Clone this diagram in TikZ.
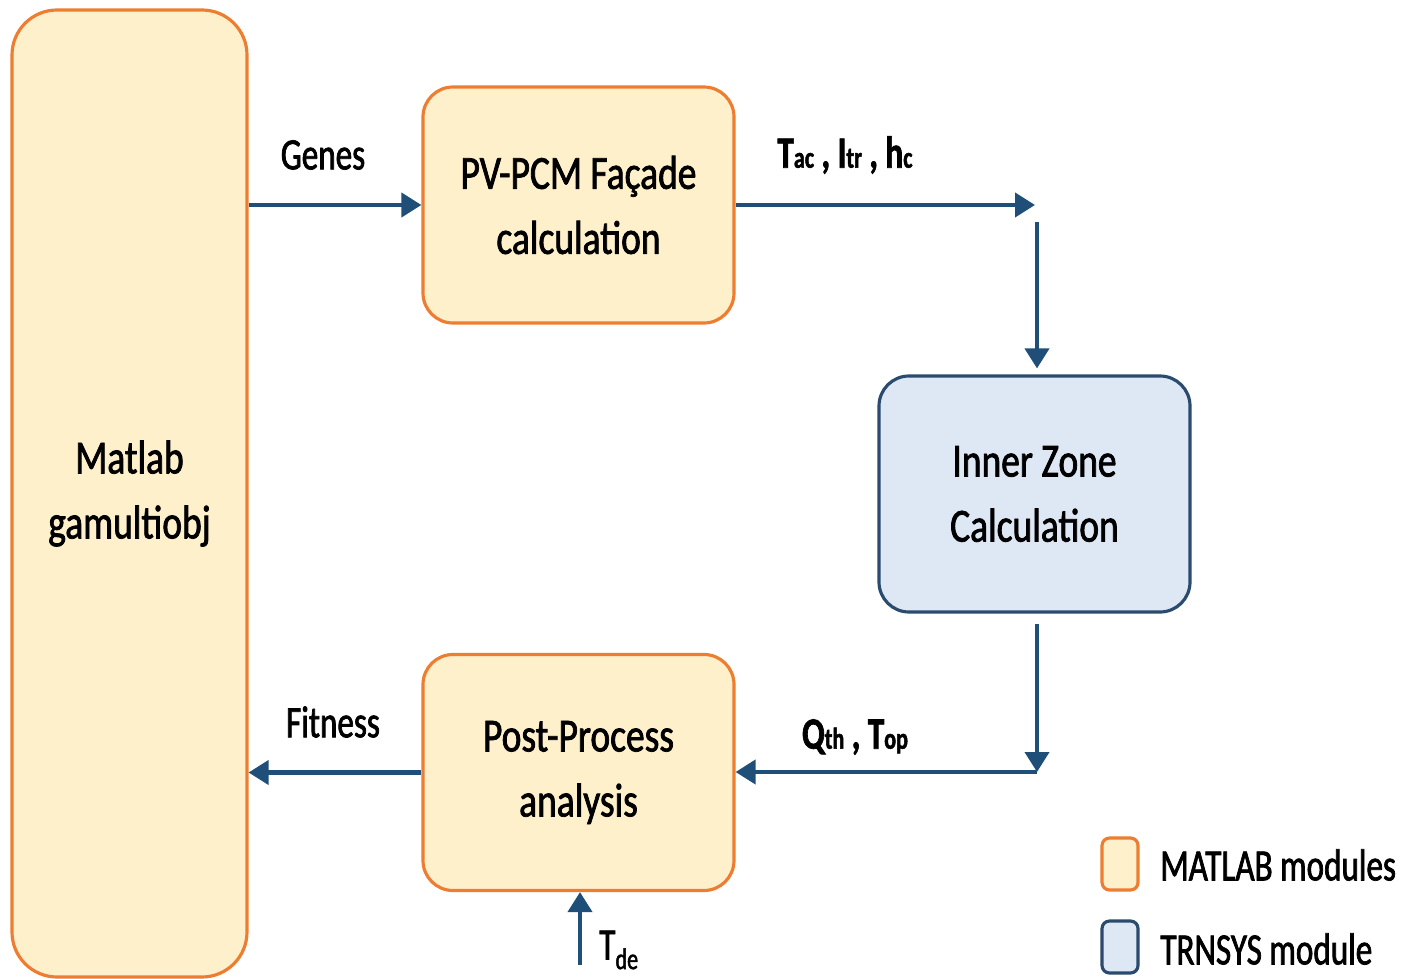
\documentclass[tikz,border=0pt]{standalone}
\usepackage{fontspec}
\usepackage{xcolor}
\usetikzlibrary{arrows.meta}
\newfontfamily\calf[FakeStretch=0.74,FakeBold=1.6]{Carlito}
\newfontfamily\calbox[FakeStretch=0.79,FakeBold=1.6]{Carlito}
\definecolor{mfill}{HTML}{FFF0CC}
\definecolor{mdraw}{HTML}{ED7D31}
\definecolor{tfill}{HTML}{DEE8F5}
\definecolor{tdraw}{HTML}{2B4B6E}
\definecolor{flow}{HTML}{1F4E79}
\newcommand{\lsub}[1]{{\fontsize{17}{17}\selectfont #1}}

\begin{document}
\begin{tikzpicture}[
  mbox/.style={draw=mdraw,fill=mfill,line width=1.8pt,rounded corners=0.6cm,minimum width=6.22cm,minimum height=4.72cm,align=center,font={\calbox\fontsize{27}{37}\selectfont}},  tbox/.style={mbox,draw=tdraw,fill=tfill},  arr/.style={draw=flow,line width=2.3pt,-{Triangle[length=0.4cm,width=0.48cm]}},  lab/.style={font={\calf\fontsize{25.5}{30}\selectfont}},  blab/.style={font={\calf\bfseries\fontsize{25.5}{30}\selectfont}},  leg/.style={line width=1.8pt,rounded corners=0.15cm,minimum width=0.72cm,minimum height=1.04cm,inner sep=0pt}
]
  \useasboundingbox (0,0) rectangle (28.18,-19.58);
  \node[mbox,rounded corners=0.9cm,minimum width=4.7cm,minimum height=19.34cm] (matlab) at (2.59,-9.87) {Matlab\\gamultiobj};
  \node[mbox] (pv) at (11.57,-4.10) {PV-PCM Façade\\calculation};
  \node[tbox] (inner) at (20.69,-9.88) {Inner Zone\\Calculation};
  \node[mbox] (post) at (11.57,-15.45) {Post-Process\\analysis};
  \coordinate (c1) at (20.70,-4.10);
  \coordinate (c2) at (20.74,-4.44);
  \coordinate (c3) at (20.74,-15.44);
  \coordinate (tde) at (11.60,-19.30);
  \draw[arr] (matlab.east |- pv.west) -- (pv.west);
  \draw[arr] (pv.east) -- (c1);
  \draw[arr] (c2) -- ([yshift=0.12cm]inner.north -| c2);
  \draw[arr] ([yshift=-0.2cm]inner.south -| c3) -- (c3);
  \draw[arr] (c3) -- (post.east |- c3);
  \draw[arr] (post.west) -- (post.west -| matlab.east);
  \draw[arr] (tde) -- (tde |- post.south);
  \node[lab] (genes) at (6.46,-3.1) {Genes};
  \node[blab] (tac) at (16.9,-3.1) {T\lsub{ac}\,, I\lsub{tr}\,, h\lsub{c}};
  \node[blab] (qth) at (17.1,-14.74) {Q\lsub{th}\,, T\lsub{op}};
  \node[lab] (fit) at (6.66,-14.44) {Fitness};
  \node[lab,anchor=west,inner sep=0pt] (tdel) at (11.98,-19.0) {T\raisebox{-0.45ex}{\lsub{de}}};
  \node[leg,draw=mdraw,fill=mfill] (lm) at (22.4,-17.28) {};
  \node[leg,draw=tdraw,fill=tfill] (lt) at (22.4,-18.94) {};
  \node[lab,anchor=west,inner sep=0pt] (lmt) at (23.2,-17.30) {MATLAB modules};
  \node[lab,anchor=west,inner sep=0pt] (ltt) at (23.2,-18.98) {TRNSYS module};
\end{tikzpicture}
\end{document}
